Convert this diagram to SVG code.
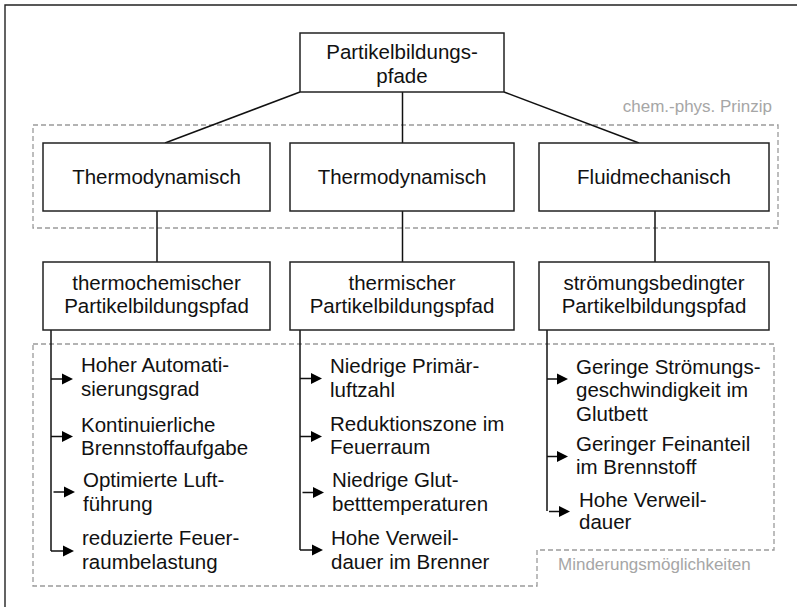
<svg xmlns="http://www.w3.org/2000/svg" xmlns:xlink="http://www.w3.org/1999/xlink" width="797" height="607" viewBox="0 0 797 607">
<defs>
<style>
text{font-family:"Liberation Sans",Arial,sans-serif;font-size:20.5px;fill:#111}
.c{text-anchor:middle}
.g{fill:#a6a6a6;font-size:17px}
.box{fill:#fff;stroke:#222;stroke-width:1.5}
.ln{fill:none;stroke:#111;stroke-width:1.5}
.dash{fill:none;stroke:#9a9a9a;stroke-width:1.3;stroke-dasharray:5 3}
.tri{fill:#000}
</style>
<path id="tri" class="tri" d="M-11,-5.5 L0,0 L-11,5.5 Z"/>
</defs>
<rect width="797" height="607" fill="#fff"/>
<path d="M5,607 V5 H797" fill="none" stroke="#222" stroke-width="1.4"/>

<g id="groups">
<rect class="dash" x="33" y="125" width="745" height="103"/>
<text class="g" x="772" y="112" text-anchor="end">chem.-phys. Prinzip</text>
<path class="dash" d="M33,344 H774 V550 H537 V586 H33 Z"/>
<text class="g" x="558" y="570">Minderungsmöglichkeiten</text>
</g>

<g id="connectors">
<line class="ln" x1="300" y1="92" x2="165" y2="143"/>
<line class="ln" x1="402.5" y1="92" x2="402.5" y2="143"/>
<line class="ln" x1="504" y1="92" x2="639" y2="143"/>
<line class="ln" x1="157" y1="211" x2="157" y2="262"/>
<line class="ln" x1="402.5" y1="211" x2="402.5" y2="262"/>
<line class="ln" x1="655" y1="211" x2="655" y2="262"/>
<path class="ln" d="M51,330 V551"/>
<path class="ln" d="M51,379 H64 M51,436.5 H64 M53.5,492 H66 M51,551 H65"/>
<use xlink:href="#tri" href="#tri" x="73" y="379"/>
<use xlink:href="#tri" href="#tri" x="73" y="436.5"/>
<use xlink:href="#tri" href="#tri" x="75" y="492"/>
<use xlink:href="#tri" href="#tri" x="74" y="551"/>
<path class="ln" d="M300,330 V550"/>
<path class="ln" d="M300,378.5 H313 M300,436.5 H313 M302.5,492.5 H315 M300,550 H314"/>
<use xlink:href="#tri" href="#tri" x="322" y="378.5"/>
<use xlink:href="#tri" href="#tri" x="322" y="436.5"/>
<use xlink:href="#tri" href="#tri" x="324" y="492.5"/>
<use xlink:href="#tri" href="#tri" x="323" y="550"/>
<path class="ln" d="M547,330 V511"/>
<path class="ln" d="M547,379 H559 M547,456.5 H559 M549,511.5 H561"/>
<use xlink:href="#tri" href="#tri" x="568" y="379"/>
<use xlink:href="#tri" href="#tri" x="568" y="456.5"/>
<use xlink:href="#tri" href="#tri" x="570" y="511.5"/>
</g>

<g id="root">
<rect class="box" x="300" y="33" width="204" height="59"/>
<text class="c" x="402" y="59">Partikelbildungs-</text>
<text class="c" x="402" y="83">pfade</text>
</g>

<g id="p1">
<rect class="box" x="43" y="143" width="227" height="68"/>
<text class="c" x="156.5" y="183.5">Thermodynamisch</text>
</g>
<g id="p2">
<rect class="box" x="290" y="143" width="224" height="68"/>
<text class="c" x="402" y="183.5">Thermodynamisch</text>
</g>
<g id="p3">
<rect class="box" x="539" y="143" width="230" height="68"/>
<text class="c" x="654" y="183.5">Fluidmechanisch</text>
</g>

<g id="path1">
<rect class="box" x="43" y="262" width="227" height="68"/>
<text class="c" x="156.5" y="289.5">thermochemischer</text>
<text class="c" x="156.5" y="313">Partikelbildungspfad</text>
</g>
<g id="path2">
<rect class="box" x="290" y="262" width="224" height="68"/>
<text class="c" x="402" y="289.5">thermischer</text>
<text class="c" x="402" y="313">Partikelbildungspfad</text>
</g>
<g id="path3">
<rect class="box" x="539" y="262" width="230" height="68"/>
<text class="c" x="654" y="289.5">strömungsbedingter</text>
<text class="c" x="654" y="313">Partikelbildungspfad</text>
</g>

<g id="m1">
<text x="81" y="372">Hoher Automati-</text>
<text x="81" y="396">sierungsgrad</text>
<text x="81" y="431.5">Kontinuierliche</text>
<text x="81" y="455">Brennstoffaufgabe</text>
<text x="83" y="487">Optimierte Luft-</text>
<text x="83" y="510.5">führung</text>
<text x="82" y="545">reduzierte Feuer-</text>
<text x="82" y="569">raumbelastung</text>
</g>
<g id="m2">
<text x="330" y="373">Niedrige Primär-</text>
<text x="330" y="396.5">luftzahl</text>
<text x="330" y="430.5">Reduktionszone im</text>
<text x="330" y="454">Feuerraum</text>
<text x="332" y="487">Niedrige Glut-</text>
<text x="332" y="510.5">betttemperaturen</text>
<text x="331" y="545">Hohe Verweil-</text>
<text x="331" y="568.5">dauer im Brenner</text>
</g>
<g id="m3">
<text x="576" y="373.5">Geringe Strömungs-</text>
<text x="576" y="397">geschwindigkeit im</text>
<text x="576" y="420.5">Glutbett</text>
<text x="576" y="450.5">Geringer Feinanteil</text>
<text x="576" y="474">im Brennstoff</text>
<text x="579" y="506.5">Hohe Verweil-</text>
<text x="579" y="529">dauer</text>
</g>
</svg>
